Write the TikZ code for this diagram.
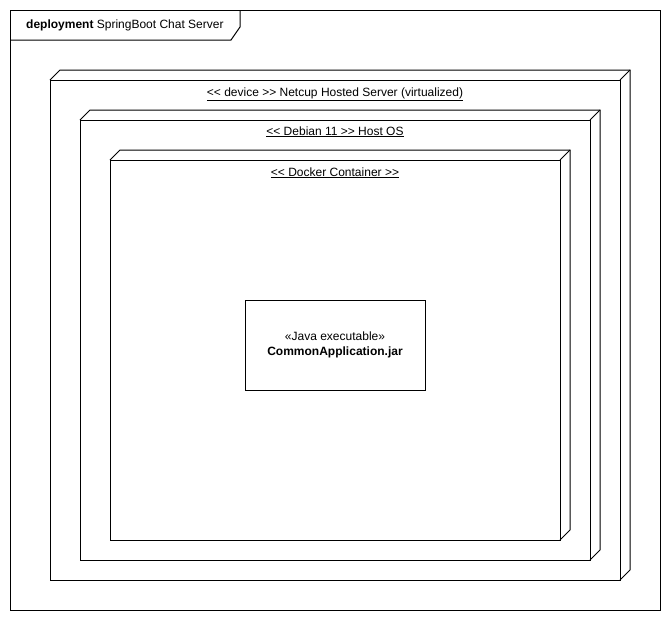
\documentclass[tikz,border=0pt]{standalone}
\usepackage{fontspec}
\setmainfont{Liberation Sans}
\usetikzlibrary{positioning, calc}
\tikzset{every node/.append style = {font=\fontsize{12}{15}\selectfont}}
\tikzset{devbox/.style = {draw, line width=1pt, outer sep=0pt, inner sep=0pt, anchor=north west}}
\tikzset{devlabel/.style = {anchor=base, inner sep=0pt}}
\newcommand{\boxdepth}[1]{%
  \draw[line width=1pt] (#1.north west) -- ++(10,-10) -- ($(#1.north east)+(10,-10)$) -- ($(#1.south east)+(10,-10)$) -- (#1.south east);
  \draw[line width=1pt] (#1.north east) -- ++(10,-10);}
\newcommand{\lt}{{<}{<}}
\newcommand{\gt}{{>}{>}}

\begin{document}
\begin{tikzpicture}[x=1pt, y=-1pt]
\useasboundingbox (0,0) rectangle (671,621);
% frame
\node[devbox, minimum width=650pt, minimum height=600pt] (frame) at (10,10) {};
\draw[line width=1pt] (10,40) -- (231,40) -- (240,27) -- (240,10);
\node[anchor=west, inner sep=0pt] (title) at (26,25) {\textbf{deployment} SpringBoot Chat Server};
% nested nodes
\node[devbox, minimum width=570pt, minimum height=500pt] (server) at (50,80) {};
\boxdepth{server}
\node[devlabel] (serverlbl) at ($(server.north)+(0,16)$) {\underline{\lt{} device \gt{} Netcup Hosted Server (virtualized)}};
\node[devbox, minimum width=510pt, minimum height=440pt] (hostos) at (80,120) {};
\boxdepth{hostos}
\node[devlabel] (hostoslbl) at ($(hostos.north)+(0,15)$) {\underline{\lt{} Debian 11 \gt{} Host OS}};
\node[devbox, minimum width=450pt, minimum height=380pt] (docker) at (110,160) {};
\boxdepth{docker}
\node[devlabel] (dockerlbl) at ($(docker.north)+(0,16)$) {\underline{\lt{} Docker Container \gt}};
% artifact
\node[devbox, minimum width=180pt, minimum height=90pt, align=center, anchor=center] (jar) at (335,345) {«Java executable»\\\textbf{CommonApplication.jar}};
\end{tikzpicture}
\end{document}
